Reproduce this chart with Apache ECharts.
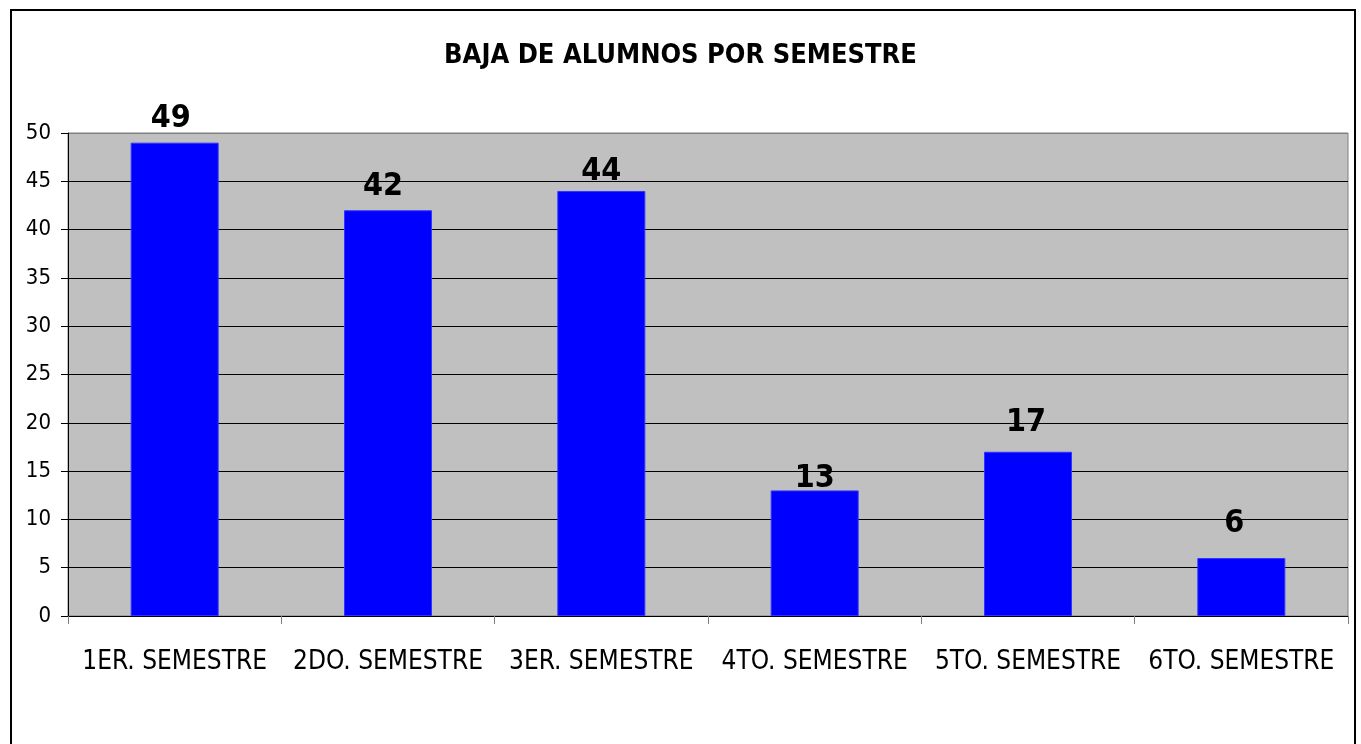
<!DOCTYPE html>
<html>
<head>
<meta charset="utf-8">
<script src="https://cdn.jsdelivr.net/npm/echarts@6/dist/echarts.min.js"></script>
<style>
  html, body { margin: 0; padding: 0; background: #fff; }
  #chart { width: 1361px; height: 744px; }
</style>
</head>
<body>
<div id="chart"></div>
<script>
const categories = ['1ER. SEMESTRE', '2DO. SEMESTRE', '3ER. SEMESTRE', '4TO. SEMESTRE', '5TO. SEMESTRE', '6TO. SEMESTRE']
const bajas = [49, 42, 44, 13, 17, 6]
// the original places its value labels a bit unevenly
const labelOffsets = [[-4, 0], [-5, 0], [0, 5], [0, 12], [-2, -5], [-7, -10]]

const narrow = '"DejaVu Sans Condensed", "Liberation Sans Narrow", "Arial Narrow", sans-serif'

// gridlines black, the one at 50 is the plot border (gray)
const splitColors = ['#000', '#000', '#000', '#000', '#000', '#000', '#000', '#000', '#000', '#000', '#808080']

const seriesData = bajas.map((v, i) => ({
  value: v,
  label: { offset: labelOffsets[i] }
}))

const myChart = echarts.init(document.getElementById('chart'))
myChart.setOption({
  backgroundColor: '#fff',
  animation: false,
  title: {
    text: 'BAJA DE ALUMNOS POR SEMESTRE',
    left: 'center',
    top: 37,
    textStyle: {
      fontFamily: narrow,
      fontSize: 27,
      fontWeight: 'bold',
      color: '#000'
    }
  },
  graphic: [
    {
      type: 'rect',
      shape: { x: 11, y: 10, width: 1344, height: 800 },
      style: { fill: 'none', stroke: '#000', lineWidth: 2 },
      silent: true,
      z: -1
    }
  ],
  grid: {
    left: 68,
    right: 13,
    top: 133,
    bottom: 128,
    show: true,
    backgroundColor: '#C0C0C0',
    borderColor: '#808080',
    borderWidth: 1
  },
  xAxis: {
    type: 'category',
    data: categories,
    axisLine: { lineStyle: { color: '#000', width: 1 } },
    axisTick: { show: true, length: 8, lineStyle: { color: '#808080' } },
    axisLabel: {
      interval: 0,
      fontFamily: narrow,
      fontSize: 26,
      color: '#000',
      margin: 33
    }
  },
  yAxis: {
    type: 'value',
    min: 0,
    max: 50,
    interval: 5,
    axisLine: { show: true, lineStyle: { color: '#000', width: 1 } },
    axisTick: { show: true, length: 7, lineStyle: { color: '#000' } },
    axisLabel: {
      fontFamily: narrow,
      fontSize: 22,
      color: '#000',
      margin: 17
    },
    splitLine: { show: true, lineStyle: { color: splitColors, width: 1 } }
  },
  series: [
    {
      name: 'Bajas',
      type: 'bar',
      data: seriesData,
      barWidth: 88,
      itemStyle: { color: '#0000FF', borderColor: '#3333FF', borderWidth: 1 },
      label: {
        show: true,
        position: 'top',
        distance: 8,
        fontFamily: narrow,
        fontSize: 32,
        fontWeight: 'bold',
        color: '#000'
      }
    }
  ]
})
</script>
</body>
</html>
